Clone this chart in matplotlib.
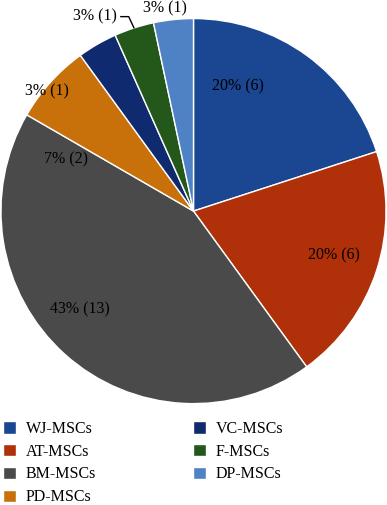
import matplotlib.pyplot as plt

# data
categories = ["WJ-MSCs", "AT-MSCs", "BM-MSCs", "PD-MSCs", "VC-MSCs", "F-MSCs", "DP-MSCs"]
counts = [6, 6, 13, 2, 1, 1, 1]
colors = ["#1b4692", "#b0300a", "#4a4a4a", "#c8700a", "#0f2a6e", "#24581a", "#4f82c4"]

plt.rcParams["font.family"] = ["Liberation Serif", "DejaVu Serif"]

total = sum(counts)
labels = ["%d%% (%d)" % (round(100.0 * c / total), c) for c in counts]

fig = plt.figure(figsize=(3.87, 5.05), dpi=100)
ax = fig.add_axes([0.0, 0.2, 1.0, 0.764])

wedges, _ = ax.pie(counts, colors=colors, startangle=90, counterclock=False,
                   wedgeprops=dict(edgecolor="white", linewidth=1.0))
ax.set_xlim(-1.005, 1.005)
ax.set_ylim(-1.0, 1.0)
ax.set_aspect("equal")

# label placement (data coords of pie)
label_pos = [(0.23, 0.65), (0.73, -0.23), (-0.59, -0.51), (-0.66, 0.27),
             (-0.76, 0.62), (-0.40, 1.01), (-0.15, 1.055)]
for i, (lab, pos) in enumerate(zip(labels, label_pos)):
    if categories[i] == "F-MSCs":
        ax.annotate(lab, xy=(-0.309, 0.951), xytext=pos,
                    ha="right", va="center", fontsize=11.5,
                    arrowprops=dict(arrowstyle="-", color="black", lw=1.0,
                                    shrinkA=1, shrinkB=0, relpos=(1.0, 0.5),
                                    connectionstyle="angle,angleA=0,angleB=115,rad=0"),
                    annotation_clip=False)
    else:
        ax.text(pos[0], pos[1], lab, ha="center", va="center", fontsize=11.5,
                clip_on=False)

fig.legend(wedges, categories, ncol=2, loc="lower left",
           bbox_to_anchor=(-0.008, -0.013), frameon=False, fontsize=11.5,
           handlelength=0.8, handleheight=0.8, handletextpad=0.6,
           columnspacing=6.1, labelspacing=0.42, borderaxespad=0)

fig.savefig("out.png", dpi=100)
